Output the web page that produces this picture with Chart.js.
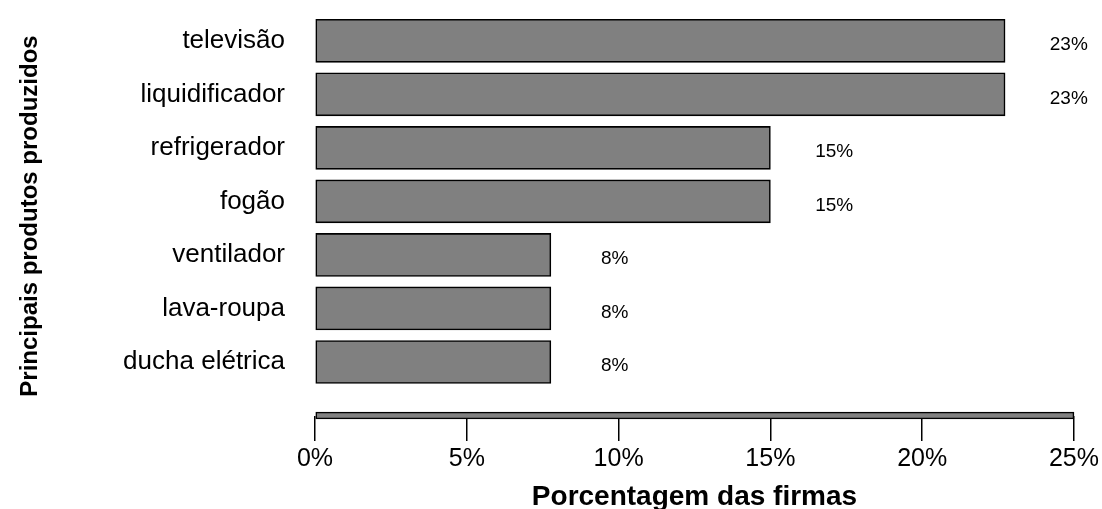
<!DOCTYPE html>
<html>
<head>
<meta charset="utf-8">
<script src="https://cdn.jsdelivr.net/npm/chart.js@4.4.1/dist/chart.umd.min.js"></script>
<style>
  html, body { margin: 0; padding: 0; background: #ffffff; }
  #wrap { width: 1102px; height: 509px; }
</style>
</head>
<body>
<div id="wrap"><canvas id="c" width="1102" height="509"></canvas></div>
<script>
// ---- data ----
const categories = ['televisão', 'liquidificador', 'refrigerador', 'fogão', 'ventilador', 'lava-roupa', 'ducha elétrica'];
const shares = [22.73, 22.73, 15.0, 15.0, 7.77, 7.77, 7.77];
const axisMax = 25;
const axisBarValue = [25];
const xTicks = [0, 5, 10, 15, 20, 25];
const xTitle = 'Porcentagem das firmas';
const yTitle = 'Principais produtos produzidos';

// ---- build ----
const labels = categories.concat(['']);
const mainData = shares.concat([null]);
const baseData = categories.map(() => null).concat(axisBarValue);

const FONT = "'Liberation Sans', Arial, Helvetica, sans-serif";
const AREA_TOP = 40.8;

const fixArea = {
  id: 'fixArea',
  afterLayout(chart) {
    const y = chart.scales.y;
    y.top = AREA_TOP;
    y.height = y.bottom - y.top;
    y.configure();
    chart.chartArea.top = AREA_TOP;
    chart.chartArea.height = chart.chartArea.bottom - AREA_TOP;
  }
};

const valueLabels = {
  id: 'valueLabels',
  afterDatasetsDraw(chart) {
    const ctx = chart.ctx;
    const xs = chart.scales.x, ys = chart.scales.y;
    ctx.save();
    ctx.fillStyle = '#000';
    ctx.font = '19px ' + FONT;
    ctx.textAlign = 'center';
    ctx.textBaseline = 'middle';
    shares.forEach((v, i) => {
      const x = xs.getPixelForValue(v + 2.1);
      const y = ys.getPixelForValue(i) + 4;
      ctx.fillText(Math.round(v) + '%', x, y);
    });
    ctx.restore();
  }
};

const axisTitles = {
  id: 'axisTitles',
  afterDraw(chart) {
    const ctx = chart.ctx;
    const xs = chart.scales.x;
    ctx.save();
    ctx.fillStyle = '#000';
    ctx.textAlign = 'center';
    ctx.textBaseline = 'middle';
    ctx.font = 'bold 28px ' + FONT;
    ctx.fillText(xTitle, (xs.left + xs.right) / 2, 497);
    ctx.translate(30, 216);
    ctx.rotate(-Math.PI / 2);
    ctx.font = 'bold 24px ' + FONT;
    ctx.fillText(yTitle, 0, 0);
    ctx.restore();
  }
};

new Chart(document.getElementById('c'), {
  type: 'bar',
  data: {
    labels: labels,
    datasets: [
      {
        data: mainData,
        backgroundColor: '#808080',
        borderColor: '#000000',
        borderWidth: 1.6,
        borderSkipped: false,
        barThickness: 43,
        clip: false
      },
      {
        data: baseData,
        backgroundColor: '#808080',
        borderColor: '#000000',
        borderWidth: 1.6,
        borderSkipped: false,
        barThickness: 7,
        clip: false
      }
    ]
  },
  options: {
    indexAxis: 'y',
    responsive: false,
    animation: false,
    grouped: false,
    layout: { padding: { top: 36, right: 28, bottom: 0, left: 0 } },
    plugins: { legend: { display: false }, tooltip: { enabled: false } },
    scales: {
      x: {
        type: 'linear',
        min: 0,
        max: axisMax,
        afterBuildTicks(scale) { scale.ticks = xTicks.map(v => ({ value: v })); },
        afterFit(scale) { scale.height = 509 - 415.5; },
        grid: { display: true, drawOnChartArea: false, drawTicks: true, tickLength: 25.5, color: '#000', lineWidth: 1.5 },
        border: { display: false },
        ticks: {
          color: '#000',
          font: { family: FONT, size: 25 },
          padding: 3,
          maxRotation: 0,
          callback: v => v + '%'
        }
      },
      y: {
        type: 'category',
        offset: false,
        afterFit(scale) { scale.width = 315; },
        grid: { display: false },
        border: { display: false },
        ticks: {
          color: '#000',
          font: { family: FONT, size: 26 },
          padding: 22,
          autoSkip: false
        }
      }
    }
  },
  plugins: [fixArea, valueLabels, axisTitles]
});
</script>
</body>
</html>
